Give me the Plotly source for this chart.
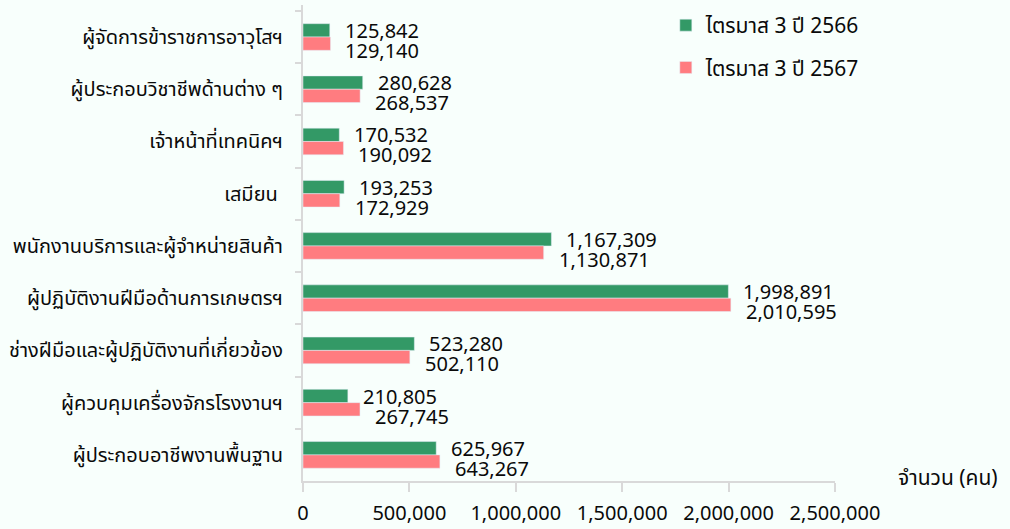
import plotly.graph_objects as go

categories = [
    "ผู้จัดการข้าราชการอาวุโสฯ",
    "ผู้ประกอบวิชาชีพด้านต่าง ๆ",
    "เจ้าหน้าที่เทคนิคฯ",
    "เสมียน ",
    "พนักงานบริการและผู้จำหน่ายสินค้า",
    "ผู้ปฏิบัติงานฝีมือด้านการเกษตรฯ",
    "ช่างฝีมือและผู้ปฏิบัติงานที่เกี่ยวข้อง",
    "ผู้ควบคุมเครื่องจักรโรงงานฯ",
    "ผู้ประกอบอาชีพงานพื้นฐาน",
]
q3_2566 = [125842, 280628, 170532, 193253, 1167309, 1998891, 523280, 210805, 625967]
q3_2567 = [129140, 268537, 190092, 172929, 1130871, 2010595, 502110, 267745, 643267]
series_names = ["ไตรมาส 3 ปี 2566", "ไตรมาส 3 ปี 2567"]
x_ticks = [0, 500000, 1000000, 1500000, 2000000, 2500000]

FONT = "Tahoma, 'Noto Sans Thai', 'Leelawadee UI', sans-serif"
GREEN = "#339966"
SALMON = "#FF7C80"
TXT = "#0a0a0a"

fig = go.Figure()
fig.add_trace(go.Bar(y=categories, x=q3_2566, orientation="h", name=series_names[0],
                     marker_color=GREEN, legendgroup="a"))
fig.add_trace(go.Bar(y=categories, x=q3_2567, orientation="h", name=series_names[1],
                     marker_color=SALMON, legendgroup="b"))

# value labels next to the bars
for cat, v in zip(categories, q3_2566):
    fig.add_annotation(x=v, y=cat, text=f"{v:,}", showarrow=False, xanchor="left",
                       xshift=13, yshift=5, font=dict(size=20, color=TXT))
for cat, v in zip(categories, q3_2567):
    fig.add_annotation(x=v, y=cat, text=f"{v:,}", showarrow=False, xanchor="left",
                       xshift=13, yshift=-15, font=dict(size=20, color=TXT))

fig.add_annotation(xref="paper", yref="paper", x=1.31, y=0.0, text="จำนวน (คน)",
                   showarrow=False, xanchor="right", yanchor="middle", yshift=3,
                   font=dict(size=21, color=TXT))

fig.update_layout(
    width=1010, height=529,
    margin=dict(l=303, r=175, t=5, b=48, autoexpand=False),
    paper_bgcolor="#F8FFFC", plot_bgcolor="#F8FFFC",
    font=dict(family=FONT, size=20, color=TXT),
    barmode="group", bargap=0.49, bargroupgap=0,
    showlegend=True,
    legend=dict(x=0.682, y=1.0, xanchor="left", yanchor="top",
                traceorder="grouped", tracegroupgap=12, font=dict(size=21),
                bgcolor="rgba(0,0,0,0)", itemwidth=30),
)
fig.update_xaxes(range=[0, 2500000], tickvals=x_ticks, tickformat=",d", automargin=False,
                 showgrid=False, zeroline=False, showline=True, linecolor="#D9D9D9",
                 linewidth=2, ticks="outside", ticklen=9, tickcolor="#D9D9D9",
                 tickwidth=2, ticklabelstandoff=4)
fig.update_yaxes(autorange="reversed", showgrid=False, showline=True, automargin=False,
                 linecolor="#D9D9D9", linewidth=2, ticks="outside", ticklen=6,
                 tickcolor="#D9D9D9", tickwidth=2, tickson="boundaries",
                 ticklabelstandoff=14, tickfont=dict(size=20))

fig.write_html("out.html", config={"displayModeBar": False},
               post_script="document.body.style.margin='0';")
